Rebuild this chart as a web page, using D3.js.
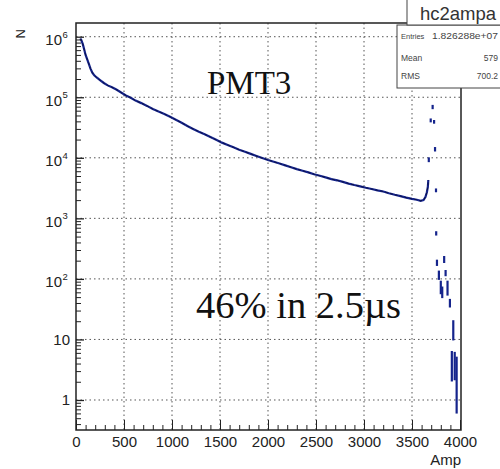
<!DOCTYPE html>
<html><head><meta charset="utf-8">
<script src="https://cdn.jsdelivr.net/npm/d3@7/dist/d3.min.js"></script>
<style>body{margin:0;background:#fff}svg{display:block}</style>
</head><body>
<script>
// ---- data ----
const mainAmp = [45,55,70,85,100,115,130,150,170,190,215,250,290,330,375,420,470,520,570,620,680,740,800,860,920,980,1040,1100,1160,1220,1280,1340,1400,1460,1520,1580,1640,1700,1760,1820,1880,1940,2000,2060,2120,2180,2240,2300,2360,2420,2480,2540,2600,2660,2720,2780,2840,2900,2960,3020,3080,3140,3200,3260,3320,3380,3440,3500,3550,3590,3620,3640,3655,3665,3670];
const mainCount = [930000,880000,760000,620000,500000,430000,370000,300000,255000,230000,212000,192000,172000,157000,146000,134000,120000,107000,98000,88000,80000,72000,64000,58000,53000,47500,42500,38000,33500,30000,27000,24500,22000,19800,17800,16300,14900,13600,12600,11600,10700,9900,9200,8600,8050,7500,7000,6500,6100,5750,5350,5050,4750,4450,4250,4000,3750,3550,3380,3200,3050,2900,2780,2600,2450,2330,2200,2100,2030,1950,2000,2250,2700,3300,4300];
const tailAmp  = [3675,3695,3730,3715,3740,3750,3752,3760,3780,3800,3815,3835,3850,3870,3895,3930,3915,3945,3965];
const tailLow  = [8800,40000,38000,66000,13200,2800,540,170,100,58,50,190,115,55,35,10,2.1,2.2,0.62];
const tailHigh = [9800,43000,40500,72000,14500,3000,590,200,132,90,72,230,135,90,45,20,6.2,6.0,5.0];
const xTicks = [0,500,1000,1500,2000,2500,3000,3500,4000];
const yDecades = [1,10,100,1000,10000,100000,1000000];
const yLabelExp = [null,null,2,3,4,5,6];
const statNames = ["Entries","Mean","RMS"];
const statValues = ["1.826288e+07","579","700.2"];

const W=500,H=469;
const svg=d3.select("body").append("svg").attr("width",W).attr("height",H);
const x=d3.scaleLinear().domain([0,4000]).range([76,460]);
const y=d3.scaleLog().domain([0.3194,1.684e6]).range([430,23]);
const ink="#222", blue="#15248c";
const sans="'Liberation Sans',Arial,sans-serif", serif="'Liberation Serif','Times New Roman',serif";

// grid
const g=svg.append("g");
g.selectAll(".gx").data(xTicks.slice(1,-1)).enter().append("line")
 .attr("x1",d=>x(d)).attr("x2",d=>x(d)).attr("y1",23).attr("y2",430)
 .attr("stroke","#555").attr("stroke-dasharray","1.5,3");
g.selectAll(".gy").data(yDecades).enter().append("line")
 .attr("x1",76).attr("x2",461).attr("y1",d=>y(d)).attr("y2",d=>y(d))
 .attr("stroke","#555").attr("stroke-dasharray","1.5,3");

// main curve
const line=d3.line().x((d,i)=>x(mainAmp[i])).y((d,i)=>y(mainCount[i]));
svg.append("path").attr("d",line(mainAmp)).attr("fill","none").attr("stroke",blue).attr("stroke-width",2.2);
svg.append("path").attr("d",line(mainAmp)).attr("fill","none").attr("stroke","#0a0f40").attr("stroke-width",0.9).attr("stroke-dasharray","3,2");
// tail
svg.selectAll(".tail").data(tailAmp).enter().append("line")
 .attr("x1",d=>x(d)).attr("x2",d=>x(d))
 .attr("y1",(d,i)=>y(tailLow[i])+1).attr("y2",(d,i)=>y(tailHigh[i])-1)
 .attr("stroke",blue).attr("stroke-width",2.2);

// axes
const xMajor=d3.axisBottom(x).tickValues(xTicks).tickSizeInner(-10).tickSizeOuter(0).tickPadding(6).tickFormat(d3.format("d"));
const xa=svg.append("g").attr("transform","translate(0,430)").call(xMajor);
xa.select(".domain").remove();
xa.selectAll("text").attr("font-family",sans).attr("font-size",15).attr("fill",ink);
xa.selectAll("line").attr("stroke",ink);
const xMinor=d3.axisBottom(x).tickValues(d3.range(0,4001,100).filter(v=>v%500)).tickSize(-5).tickFormat("");
const xm=svg.append("g").attr("transform","translate(0,430)").call(xMinor);
xm.select(".domain").remove(); xm.selectAll("line").attr("stroke",ink);

const minorY=[];
[0.1,1,10,100,1000,10000,100000,1000000].forEach(b=>{for(let k=2;k<=9;k++){const v=b*k;if(v>0.3194&&v<1.684e6)minorY.push(v);}});
const yMajor=d3.axisLeft(y).tickValues(yDecades).tickSizeInner(-8).tickSizeOuter(0).tickFormat("");
const ya=svg.append("g").attr("transform","translate(76,0)").call(yMajor);
ya.select(".domain").remove(); ya.selectAll("line").attr("stroke",ink).attr("stroke-width",1.3);
const yMinor=d3.axisLeft(y).tickValues(minorY).tickSize(-5).tickFormat("");
const ym=svg.append("g").attr("transform","translate(76,0)").call(yMinor);
ym.select(".domain").remove(); ym.selectAll("line").attr("stroke",ink);

// y labels
yDecades.forEach((d,i)=>{
  const e=yLabelExp[i];
  if(e===null){
    svg.append("text").attr("x",70).attr("y",y(d)+5.5).attr("text-anchor","end")
     .attr("font-family",sans).attr("font-size",15).attr("fill",ink).text(d);
  } else {
    svg.append("text").attr("x",62).attr("y",y(d)+8.5).attr("text-anchor","end")
     .attr("font-family",sans).attr("font-size",15).attr("fill",ink).text("10");
    svg.append("text").attr("x",62.5).attr("y",y(d)+1).attr("font-family",sans).attr("font-size",9.5).attr("fill",ink).text(e);
  }
});

// frame
svg.append("rect").attr("x",76).attr("y",23).attr("width",385).attr("height",407)
 .attr("fill","none").attr("stroke",ink).attr("stroke-width",1.5);

// axis titles
svg.append("text").attr("x",461).attr("y",465).attr("text-anchor","end")
 .attr("font-family",sans).attr("font-size",15).attr("fill",ink).text("Amp");
svg.append("text").attr("transform","translate(25,29) rotate(-90)").attr("text-anchor","end")
 .attr("font-family",sans).attr("font-size",13).attr("fill",ink).text("N");

// annotations
svg.append("text").attr("x",207).attr("y",94).attr("font-family",serif).attr("font-size",33).attr("fill","#111").text("PMT3");
svg.append("text").attr("x",196).attr("y",318).attr("font-family",serif).attr("font-size",38.5).attr("fill","#111").text("46% in 2.5µs");

// stats box
svg.append("rect").attr("x",397).attr("y",25).attr("width",110).attr("height",63).attr("fill","#fff").attr("stroke","#444");
svg.append("rect").attr("x",407).attr("y",-2).attr("width",100).attr("height",27).attr("fill","#fff").attr("stroke","#444");
svg.append("text").attr("x",458).attr("y",20).attr("text-anchor","middle").attr("font-family",sans).attr("font-size",18.5).attr("fill","#333").text("hc2ampa");
statNames.forEach((n,i)=>{
  const yy=[39,61,79][i];
  svg.append("text").attr("x",401).attr("y",yy).attr("font-family",sans).attr("font-size",i===0?7.5:8.5).attr("fill","#444").text(n);
  const t=svg.append("text").attr("x",498).attr("y",yy).attr("text-anchor","end").attr("font-family",sans).attr("font-size",8.5).attr("fill","#444").text(statValues[i]);
  if(i===0) t.attr("textLength",66).attr("lengthAdjust","spacingAndGlyphs");
});
</script>
</body></html>
